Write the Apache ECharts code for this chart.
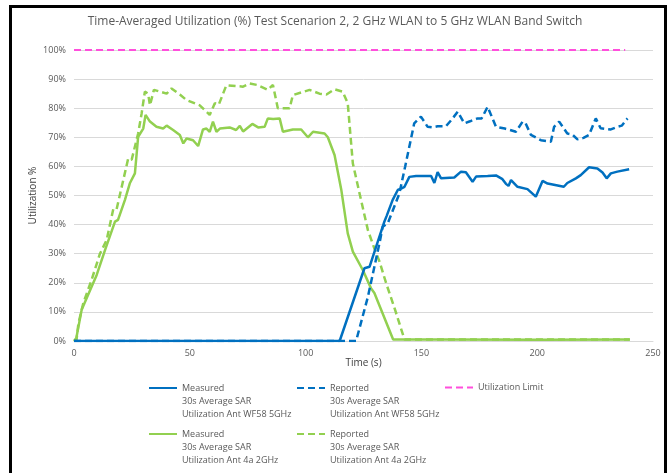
<!DOCTYPE html>
<html>
<head>
<meta charset="utf-8">
<script src="https://cdn.jsdelivr.net/npm/echarts@6/dist/echarts.min.js"></script>
<style>
  html, body { margin: 0; padding: 0; background: #fff; }
  #chart { position: absolute; left: 0; top: 0; width: 670px; height: 473px; }
  #frame { position: absolute; left: 9px; top: 5px; width: 658px; height: 600px;
           box-sizing: border-box; border: 3px solid #000; pointer-events: none; }
</style>
</head>
<body>
<div id="chart"></div>
<div id="frame"></div>
<script>
// time (s) and utilization (%)
var gmTime = [0, 1, 3.3, 9.8, 13.5, 17.7, 19, 22, 24.1, 26.3, 27.7, 29.9, 30.9, 32.8, 35.6, 38.5, 40, 42.8, 45.7, 47.2, 48.6, 51.4, 53.6, 55.7, 57.2, 58.6, 60, 61.5, 63, 67.2, 70, 71.6, 73, 77, 79.5, 82.3, 83.7, 86, 88.8, 90.2, 94.5, 98.1, 101, 103.2, 108.2, 109.6, 112.5, 115.4, 118.2, 120.4, 124.7, 128.3, 129.7, 137.8, 160, 200, 240]
var gmVal = [0, 1, 10.7, 22.7, 31.5, 41, 41.6, 48.5, 54.2, 57.6, 70.2, 73, 77.7, 75.4, 73.6, 73, 74, 72.5, 70.8, 67.9, 69.6, 69, 67, 72.7, 73, 71.9, 75.4, 71.9, 73, 73.4, 72.5, 73.9, 72, 74.6, 73.4, 73.6, 76.5, 76.3, 76.5, 71.9, 72.7, 72.7, 70, 71.9, 71.3, 70, 63.9, 52, 37, 30.7, 24.4, 18, 16.5, 0.5, 0.5, 0.4, 0.5]

var grTime = [0, 1.1, 1.9, 4, 7.6, 11.2, 14.1, 17, 18.4, 23.4, 24.9, 27.7, 29.2, 30.6, 32, 32.8, 34.5, 40, 42.1, 45.7, 48.6, 54.3, 57.2, 58.6, 60.8, 62.5, 65.8, 73, 75.9, 79, 83.7, 85.9, 88, 93.1, 94.5, 101.7, 106, 109, 112.5, 116, 118.2, 120.4, 123.3, 126.9, 129.7, 131.9, 134.8, 138.4, 142.7, 170, 200, 240]
var grVal = [0, 0.5, 6, 13, 21, 30, 34.7, 45.5, 45.3, 62.7, 62.3, 71.3, 78.2, 85.7, 85, 81, 86.3, 85, 86.8, 84.7, 82.8, 81, 78.8, 77.7, 81.7, 81.2, 87.9, 87.4, 88.5, 88, 86.3, 88, 80, 80, 84.5, 86.3, 85, 84.7, 86.5, 85.7, 81.7, 61, 50.7, 38.1, 31.8, 27.3, 19.8, 11.3, 0.5, 0.5, 0.5, 0.5]

var bmTime = [0, 114.7, 125.4, 127.6, 134, 135, 137.6, 139.8, 141.2, 142.7, 144.8, 147.7, 154.2, 155.6, 157, 158.5, 164.2, 167.1, 169.2, 172.1, 173.6, 178.6, 182.2, 185, 186.5, 187.6, 188.7, 191.5, 192.2, 195.8, 199.4, 202.3, 204.5, 211.5, 213, 216.7, 218.8, 222.4, 226, 228.2, 230, 231.8, 234.6, 239.7]
var bmVal = [0, 0, 25, 25.5, 41, 43, 48.5, 51.9, 52.4, 53, 56.4, 56.7, 56.7, 54.3, 58, 55.9, 56.2, 58.2, 58, 54.7, 56.5, 56.7, 56.9, 55.6, 54, 53.3, 55.3, 53, 52.4, 52.2, 49.6, 55, 54.1, 53, 54.3, 55.9, 57, 59.7, 59.3, 57.9, 55.9, 57.6, 58.2, 59]

var brTime = [0, 121.8, 126.9, 131.9, 133.3, 135.5, 140.5, 143, 146.9, 149.8, 152.7, 154.7, 157, 160.6, 163, 165.7, 168.5, 171, 174.3, 176, 178.6, 182.2, 186, 188, 190.8, 193.7, 195, 197.3, 201.6, 205.9, 207.3, 209.5, 213, 215.1, 217.4, 220, 222.4, 225.3, 227.4, 231.8, 234.6, 236.5, 239]
var brVal = [0, 0, 15.2, 33.6, 39.3, 40.5, 50.7, 60, 74.8, 77.1, 73.6, 73.4, 73.8, 73.8, 76, 78.8, 74.8, 75.5, 76.5, 76.5, 80.5, 73.6, 73, 72.6, 71.9, 75.4, 74.8, 70.8, 69, 68.5, 73.6, 75.4, 71.3, 71, 69.3, 69.8, 70.8, 76.5, 73.1, 72.7, 73.6, 74, 76.5]

var limitTime = [0, 238]
var limitVal = [100, 100]

var xTicks = [0, 50, 100, 150, 200, 250]
var yTicks = [0, 10, 20, 30, 40, 50, 60, 70, 80, 90, 100]

var names = [
  'Measured\n30s Average SAR\nUtilization Ant WF58 5GHz',
  'Reported\n30s Average SAR\nUtilization Ant WF58 5GHz',
  'Utilization Limit',
  'Measured\n30s Average SAR\nUtilization Ant 4a 2GHz',
  'Reported\n30s Average SAR\nUtilization Ant 4a 2GHz'
]

function zip(ts, vs) {
  return ts.map(function(t, i) { return [t, vs[i]] })
}

var font = 'Open Sans'
var blue = '#0070C0'
var green = '#92D050'
var pink = '#FF4FDC'

function lineSeries(name, color, dashed, ts, vs, width) {
  return {
    name: name,
    type: 'line',
    symbol: 'none',
    data: zip(ts, vs),
    lineStyle: { color: color, width: width || 2.5, type: dashed ? [7, 4] : 'solid' },
    itemStyle: { color: color },
    emphasis: { disabled: true },
    animation: false
  }
}

// icon sits on the first text line: pad the name with two blank lines above
function legendItem(name, left, top, multi) {
  return {
    data: [name],
    left: left,
    top: top,
    padding: 0,
    itemWidth: 28,
    itemHeight: 14,
    itemGap: 0,
    selectedMode: false,
    itemStyle: { opacity: 0 },
    formatter: function(n) { return multi ? ' \n \n' + n : n },
    textStyle: {
      fontFamily: font,
      fontSize: 9,
      color: '#595959',
      lineHeight: 13
    }
  }
}

var chart = echarts.init(document.getElementById('chart'))
chart.setOption({
  animation: false,
  title: {
    text: 'Time-Averaged Utilization (%) Test Scenarion 2, 2 GHz WLAN to 5 GHz WLAN Band Switch',
    left: 'center',
    top: 16,
    padding: 0,
    textStyle: { fontFamily: font, fontSize: 12, fontWeight: 'normal', color: '#595959' }
  },
  grid: { left: 74, right: 17, top: 50, bottom: 132, containLabel: false },
  legend: [
    legendItem(names[0], 148, 388 - 32.5, true),
    legendItem(names[1], 296, 388 - 32.5, true),
    legendItem(names[2], 444, 388 - 7, false),
    legendItem(names[3], 148, 434 - 32.5, true),
    legendItem(names[4], 296, 434 - 32.5, true)
  ],
  xAxis: {
    type: 'value',
    min: xTicks[0],
    max: xTicks[xTicks.length - 1],
    interval: xTicks[1] - xTicks[0],
    name: 'Time (s)',
    nameLocation: 'middle',
    nameGap: 17,
    nameMoveOverlap: false,
    nameTextStyle: { fontFamily: font, fontSize: 10, color: '#404040' },
    axisLine: { show: true, lineStyle: { color: '#d9d9d9' } },
    axisTick: { show: false },
    splitLine: { show: false },
    axisLabel: { fontFamily: font, fontSize: 9, color: '#595959', margin: 8 }
  },
  yAxis: {
    type: 'value',
    min: yTicks[0],
    max: yTicks[yTicks.length - 1],
    interval: yTicks[1] - yTicks[0],
    name: 'Utilization %',
    nameLocation: 'middle',
    nameGap: 36,
    nameMoveOverlap: false,
    nameTextStyle: { fontFamily: font, fontSize: 10, color: '#404040' },
    axisLine: { show: false },
    axisTick: { show: false },
    splitLine: { lineStyle: { color: '#d9d9d9', width: 1 } },
    axisLabel: { fontFamily: font, fontSize: 9, color: '#595959', margin: 8, formatter: '{value}%' }
  },
  series: [
    lineSeries(names[3], green, false, gmTime, gmVal),
    lineSeries(names[4], green, true, grTime, grVal),
    lineSeries(names[0], blue, false, bmTime, bmVal),
    lineSeries(names[1], blue, true, brTime, brVal),
    lineSeries(names[2], pink, true, limitTime, limitVal, 2)
  ]
})
</script>
</body>
</html>
